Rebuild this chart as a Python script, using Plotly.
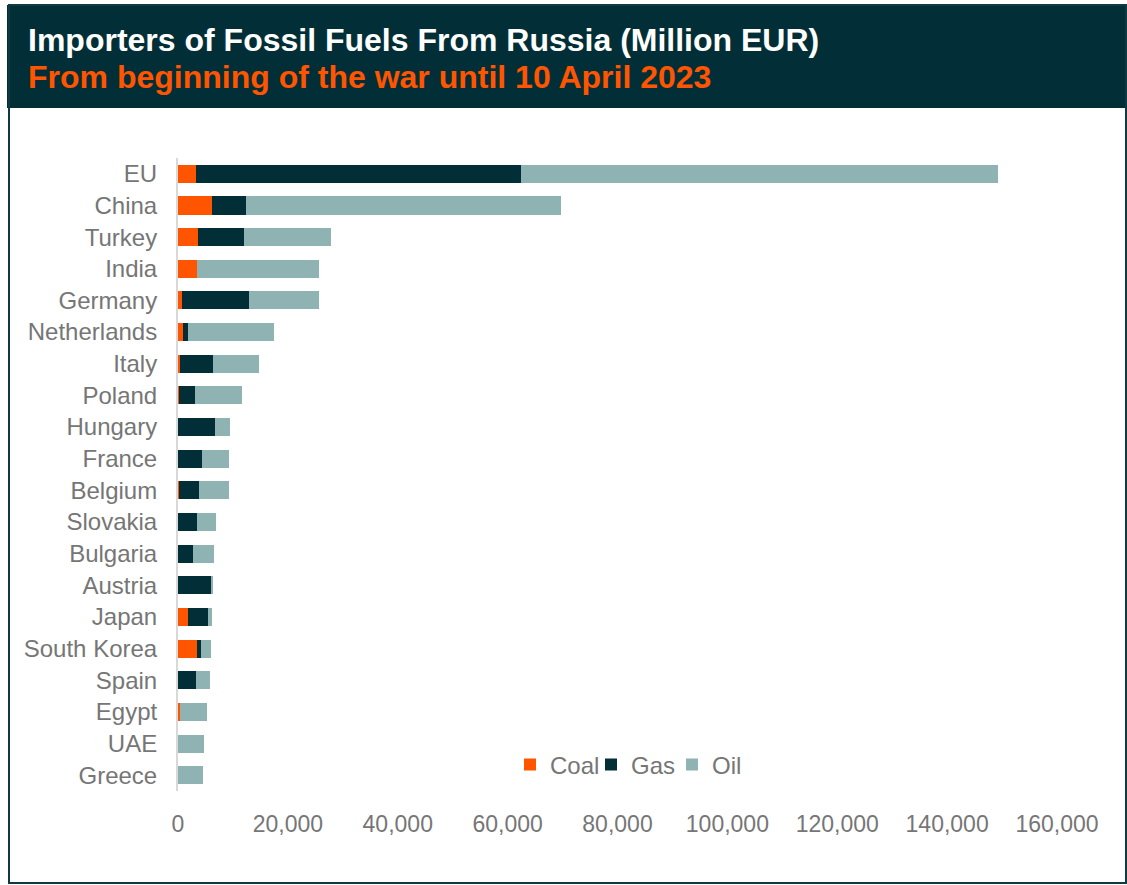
import plotly.graph_objects as go

# Million EUR, from the start of the war until 10 April 2023
countries = ["EU", "China", "Turkey", "India", "Germany", "Netherlands", "Italy", "Poland",
             "Hungary", "France", "Belgium", "Slovakia", "Bulgaria", "Austria", "Japan",
             "South Korea", "Spain", "Egypt", "UAE", "Greece"]
coal = [3300, 6200, 3600, 3500, 700, 1000, 400, 200, 0, 0, 200, 0, 0, 0, 1800, 3500, 0, 300, 0, 0]
gas = [59100, 6200, 8400, 0, 12300, 800, 5900, 2900, 6800, 4400, 3600, 3500, 2800, 6100, 3700,
       700, 3200, 0, 0, 0]
oil = [86800, 57300, 15800, 22200, 12700, 15700, 8400, 8600, 2700, 4900, 5400, 3400, 3800, 100,
       600, 1800, 2700, 5000, 4700, 4500]
x_ticks = [0, 20000, 40000, 60000, 80000, 100000, 120000, 140000, 160000]

W, H = 1127, 885
PL, PR, PT, PB = 178, 1057, 158, 791  # plot area in pixels


def fx(px):
    return (px - PL) / (PR - PL)


def fy(py):
    return (PB - py) / (PB - PT)


DARK = "#022f37"
ORANGE = "#ff5500"
OIL = "#8fb2b2"
GREY = "#767676"
FONT = "Liberation Sans, Arial, sans-serif"

fig = go.Figure()
for name, vals, col in [("Coal", coal, ORANGE), ("Gas", gas, DARK), ("Oil", oil, OIL)]:
    fig.add_trace(go.Bar(
        name=name, y=countries, x=vals, orientation="h",
        marker=dict(color=col, line=dict(width=0)),
    ))

fig.update_layout(
    width=W, height=H,
    margin=dict(l=PL, r=W - PR, t=PT, b=H - PB, pad=0),
    barmode="stack", bargap=0.43,
    paper_bgcolor="white", plot_bgcolor="white",
    font=dict(family=FONT, size=24, color=GREY),
    xaxis=dict(range=[0, 160000], tickvals=x_ticks, tickformat=",d",
               showgrid=False, zeroline=False, showline=False,
               ticks="outside", ticklen=12, tickcolor="rgba(0,0,0,0)",
               tickfont=dict(size=23, color=GREY)),
    yaxis=dict(categoryorder="array", categoryarray=countries, autorange="reversed",
               showgrid=False, zeroline=False, showline=True, linecolor="#d9d9d9",
               linewidth=2, ticks="outside", ticklen=14, tickcolor="rgba(0,0,0,0)",
               tickfont=dict(size=24, color=GREY)),
    showlegend=True,
    legend=dict(orientation="h", x=fx(510), y=fy(765), xanchor="left", yanchor="middle",
                font=dict(size=24, color=GREY), bgcolor="rgba(0,0,0,0)",
                traceorder="normal", itemwidth=30, entrywidth=36, entrywidthmode="pixels"),
    shapes=[
        # header band
        dict(type="rect", xref="paper", yref="paper", x0=fx(7), x1=fx(1127), y0=fy(5),
             y1=fy(108), fillcolor=DARK, line=dict(width=0), layer="below"),
        # outer frame
        dict(type="rect", xref="paper", yref="paper", x0=fx(9), x1=fx(1126), y0=fy(5),
             y1=fy(883), fillcolor="rgba(0,0,0,0)", line=dict(color="#0e3b43", width=2)),
    ],
    annotations=[
        dict(text="<b>Importers of Fossil Fuels From Russia (Million EUR)</b>",
             xref="paper", yref="paper", x=fx(26), y=fy(40), xanchor="left", yanchor="middle",
             showarrow=False, font=dict(family=FONT, size=32, color="white")),
        dict(text="<b>From beginning of the war until 10 April 2023</b>",
             xref="paper", yref="paper", x=fx(26), y=fy(77), xanchor="left", yanchor="middle",
             showarrow=False, font=dict(family=FONT, size=32, color=ORANGE)),
    ],
)

fig.write_html("out.html")
